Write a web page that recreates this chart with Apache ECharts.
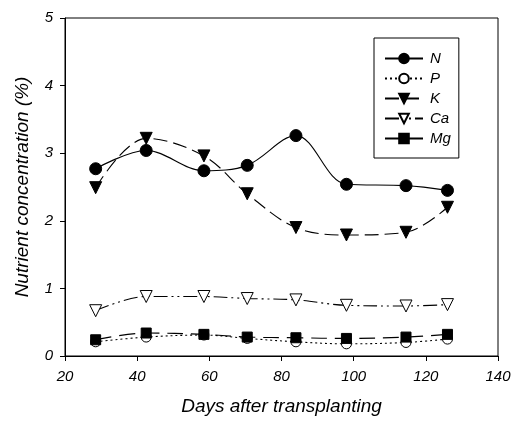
<!DOCTYPE html>
<html><head><meta charset="utf-8">
<script src="https://cdn.jsdelivr.net/npm/echarts@6/dist/echarts.min.js"></script>
<style>html,body{margin:0;padding:0;background:#fff}#c{width:514px;height:421px}</style>
</head><body><div id="c"></div>
<script>
const days = [28.5, 42.5, 58.5, 70.5, 84, 98, 114.5, 126];
const N  = [2.77, 3.04, 2.74, 2.82, 3.26, 2.54, 2.52, 2.45];
const P  = [0.21, 0.28, 0.31, 0.26, 0.21, 0.18, 0.20, 0.25];
const K  = [2.49, 3.22, 2.96, 2.40, 1.90, 1.79, 1.83, 2.20];
const Ca = [0.67, 0.88, 0.88, 0.85, 0.83, 0.75, 0.74, 0.76];
const Mg = [0.24, 0.34, 0.32, 0.28, 0.27, 0.26, 0.28, 0.32];
const xTicks = [20, 40, 60, 80, 100, 120, 140];
const yTicks = [0, 1, 2, 3, 4, 5];

const pts = arr => arr.map((v, i) => [days[i], v]);
const font = "'Liberation Sans', Arial, sans-serif";
function ser(name, data, symbol, size, filled, lineType, rotate) {
  return {
    name, type: 'line', data: pts(data), smooth: 0.35,
    symbol, symbolSize: size, symbolRotate: rotate || 0,
    lineStyle: { color: '#000', width: 1.1, type: lineType },
    itemStyle: { color: filled ? '#000' : '#fff', borderColor: '#000', borderWidth: 1 },
    emphasis: { disabled: true }
  };
}
const chart = echarts.init(document.getElementById('c'));
chart.setOption({
  animation: false,
  backgroundColor: '#fff',
  grid: { left: 65, right: 16, top: 18, bottom: 62, show: true, borderColor: '#000', borderWidth: 1 },
  xAxis: {
    type: 'value', min: xTicks[0], max: xTicks[xTicks.length - 1], interval: 20,
    name: 'Days after transplanting', nameLocation: 'middle', nameGap: 41,
    nameTextStyle: { fontFamily: font, fontStyle: 'italic', fontSize: 19, color: '#000' },
    axisLine: { lineStyle: { color: '#000', width: 1 } },
    axisTick: { inside: false, length: 5, lineStyle: { color: '#000' } },
    axisLabel: { fontFamily: font, fontStyle: 'italic', fontSize: 15, color: '#000', margin: 13 },
    splitLine: { show: false }
  },
  yAxis: {
    type: 'value', min: yTicks[0], max: yTicks[yTicks.length - 1], interval: 1,
    name: 'Nutrient concentration (%)', nameLocation: 'middle', nameGap: 33,
    nameTextStyle: { fontFamily: font, fontStyle: 'italic', fontSize: 19, color: '#000' },
    axisLine: { show: true, lineStyle: { color: '#000', width: 1 } },
    axisTick: { show: true, inside: false, length: 5, lineStyle: { color: '#000' } },
    axisLabel: { fontFamily: font, fontStyle: 'italic', fontSize: 15, color: '#000', margin: 12 },
    splitLine: { show: false }
  },
  legend: {
    orient: 'vertical', left: 374, top: 38, width: 95,
    padding: [13, 8, 12, 10],
    borderColor: '#000', borderWidth: 1, backgroundColor: '#fff',
    itemWidth: 38, itemHeight: 12, itemGap: 5,
    textStyle: { fontFamily: font, fontStyle: 'italic', fontSize: 15, color: '#000', padding: [0, 0, 0, 2] },
    data: ['N', 'P', 'K', 'Ca', 'Mg']
  },
  series: [
    ser('N', N, 'circle', 12, true, 'solid'),
    ser('P', P, 'circle', 10, false, [2, 3]),
    ser('K', K, 'triangle', 12, true, [14, 6], 180),
    ser('Ca', Ca, 'triangle', 12, false, [14, 4, 2, 4, 2, 4], 180),
    ser('Mg', Mg, 'rect', 10, true, [16, 8])
  ]
});
</script></body></html>
